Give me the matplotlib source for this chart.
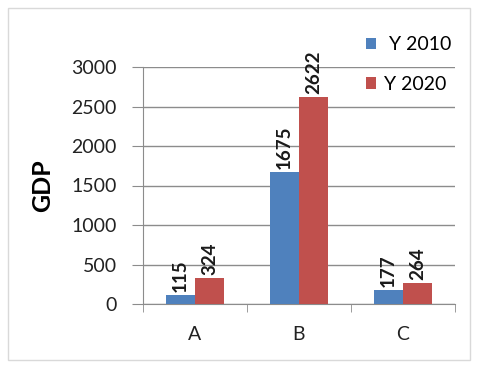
import matplotlib
matplotlib.use("Agg")
import matplotlib.pyplot as plt
from matplotlib.patches import Rectangle
import numpy as np

categories = ["A", "B", "C"]
y2010 = [115, 1675, 177]
y2020 = [324, 2622, 264]
series_names = [" Y 2010", "Y 2020"]
yticks = [0, 500, 1000, 1500, 2000, 2500, 3000]

blue = "#4F81BD"
red = "#C0504D"
grid = "#8c8c8c"

plt.rcParams["font.family"] = ["Lato", "DejaVu Sans"]

fig = plt.figure(figsize=(4.78, 3.67), dpi=100)
fig.patches.append(Rectangle((8 / 478, 7 / 367), 462 / 478, 352 / 367,
                             transform=fig.transFigure, fill=False,
                             edgecolor="#d9d9d9", lw=1))

ax = fig.add_axes([143 / 478, 1 - 304 / 367, 312 / 478, 237 / 367])

x = np.arange(len(categories))
w = 0.28
b1 = ax.bar(x - w / 2, y2010, w, color=blue, label=series_names[0], zorder=3)
b2 = ax.bar(x + w / 2, y2020, w, color=red, label=series_names[1], zorder=3)

for bars in (b1, b2):
    for r in bars:
        ax.text(r.get_x() + r.get_width() / 2, r.get_height() + 40,
                str(int(r.get_height())), rotation=90, ha="center", va="bottom",
                fontsize=13.5, fontweight="bold", color="#1a1a1a", zorder=4)

ax.set_xlim(-0.5, 2.5)
ax.set_ylim(0, 3000)
ax.set_yticks(yticks)
ax.set_xticks(x)
ax.set_xticklabels(categories)
ax.set_xticks([-0.5, 0.5, 1.5, 2.5], minor=True)
ax.tick_params(axis="x", which="major", length=0, pad=16, labelsize=14,
               colors="#222222")
ax.tick_params(axis="x", which="minor", length=6, color=grid, direction="out")
ax.tick_params(axis="y", length=8, color=grid, labelsize=14, pad=11,
               colors=grid, labelcolor="#222222")
ax.yaxis.grid(True, color=grid, lw=1, zorder=0)
for s in ("top", "right"):
    ax.spines[s].set_visible(False)
for s in ("left", "bottom"):
    ax.spines[s].set_color(grid)
ax.set_ylabel("GDP", fontsize=18, fontweight="bold", labelpad=12)

fig.legend(handles=[b1, b2], loc="upper left",
           bbox_to_anchor=(348 / 478, 1 - 19 / 367), frameon=False,
           fontsize=14, handlelength=0.55, handleheight=0.55,
           handletextpad=0.4, labelspacing=1.15)

fig.savefig("out.png", dpi=100, facecolor="white")
